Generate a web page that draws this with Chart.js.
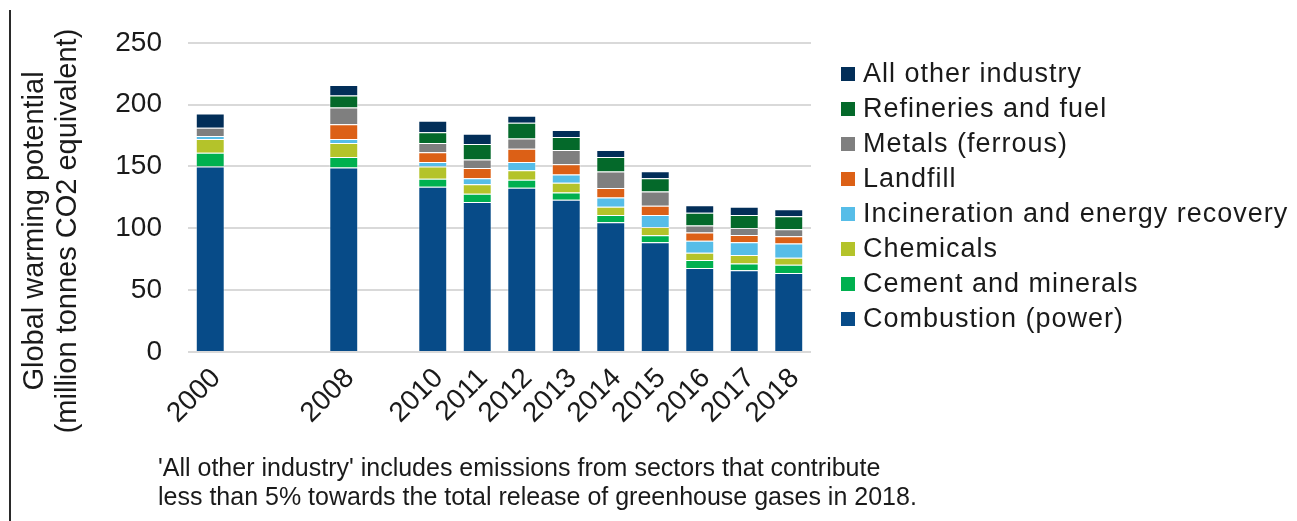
<!DOCTYPE html>
<html>
<head>
<meta charset="utf-8">
<title>Greenhouse gas emissions by sector</title>
<script src="https://cdn.jsdelivr.net/npm/chart.js@4.4.1/dist/chart.umd.min.js"></script>
<style>
  html, body { margin: 0; padding: 0; background: #fff; }
  #wrap {
    position: relative; width: 1297px; height: 521px; overflow: hidden;
    font-family: 'Liberation Sans', Arial, sans-serif; color: #1a1a1a;
  }
  #chart { position: absolute; left: 0; top: 0; }
  .frame { position: absolute; left: 9px; top: 10px; width: 1.5px; height: 511px; background: #2a2a2a; }
  .ytitle {
    position: absolute; left: 50px; top: 231px; width: 480px;
    transform: translate(-50%, -50%) rotate(-90deg);
    text-align: center; font-size: 29px; line-height: 33px;
  }
  .note {
    position: absolute; left: 158px; top: 453px;
    font-size: 25px; line-height: 29px;
  }
  #legend { position: absolute; left: 841px; top: 56px; }
  #legend .item { height: 35px; display: flex; align-items: center; white-space: nowrap; }
  #legend .box { width: 14px; height: 14px; margin-right: 8px; }
  #legend .txt { font-size: 27px; letter-spacing: 1px; }
</style>
</head>
<body>
<div id="wrap">
  <canvas id="chart" width="1297" height="521"></canvas>
  <div class="frame"></div>
  <div class="ytitle">Global warming potential<br>(million tonnes CO2 equivalent)</div>
  <div id="legend"></div>
  <div class="note">'All other industry' includes emissions from sectors that contribute<br>less than 5% towards the total release of greenhouse gases in 2018.</div>
</div>
<script>
(function() {
    'use strict';

    // Years on the axis; blank slots keep the gaps between 2000, 2008 and 2010
    const years = ['2000', '', '', '2008', '', '2010', '2011', '2012', '2013', '2014', '2015', '2016', '2017', '2018'];

    // Emissions per sector, million tonnes CO2 equivalent
    const combustion   = [150.0, null, null, 149.1, null, 133.6, 121.2, 132.8, 123.1, 104.9, 88.8, 67.9, 66.0, 63.9];
    const cement       = [11.2,  null, null, 8.6,   null, 6.4,   6.8,   6.4,   5.9,   5.9,   5.6,  6.4,  5.6,  6.7];
    const chemicals    = [11.0,  null, null, 11.3,  null, 10.0,  7.7,   7.8,   7.8,   6.7,   6.7,  5.9,  6.8,  5.6];
    const incineration = [2.4,   null, null, 3.2,   null, 3.7,   4.8,   6.7,   6.7,   7.5,   9.7,  9.7,  10.4, 11.5];
    const landfill     = [0,     null, null, 12.0,  null, 7.8,   8.3,   10.6,  8.3,   7.5,   7.5,  6.7,  5.9,  5.9];
    const metals       = [6.7,   null, null, 13.5,  null, 7.5,   6.8,   8.4,   11.5,  13.4,  11.5, 5.6,  5.6,  5.7];
    const refineries   = [0,     null, null, 9.6,   null, 8.6,   12.5,  12.6,  10.5,  11.8,  10.7, 10.4, 10.5, 10.4];
    const otherIndustry = [11.5, null, null, 8.6,   null, 9.4,   8.4,   5.7,   5.6,   5.6,   5.7,  6.0,  6.7,  5.7];

    const yTicks = [0, 50, 100, 150, 200, 250];

    const series = [
        { label: 'Combustion (power)', data: combustion, color: '#074b88' },
        { label: 'Cement and minerals', data: cement, color: '#00b04f' },
        { label: 'Chemicals', data: chemicals, color: '#b4c32a' },
        { label: 'Incineration and energy recovery', data: incineration, color: '#56bde8' },
        { label: 'Landfill', data: landfill, color: '#dc6016' },
        { label: 'Metals (ferrous)', data: metals, color: '#7f7f7f' },
        { label: 'Refineries and fuel', data: refineries, color: '#04692a' },
        { label: 'All other industry', data: otherIndustry, color: '#022e58' }
    ];

    const FONT = "'Liberation Sans', Arial, sans-serif";

    // Legend list is built from the datasets, top item = last stacked series
    const htmlLegend = {
        id: 'htmlLegend',
        afterUpdate(chart) {
            const box = document.getElementById('legend');
            box.innerHTML = '';
            chart.data.datasets.slice().reverse().forEach(ds => {
                const item = document.createElement('div');
                item.className = 'item';
                const sw = document.createElement('span');
                sw.className = 'box';
                sw.style.background = ds.backgroundColor;
                const txt = document.createElement('span');
                txt.className = 'txt';
                txt.textContent = ds.label;
                item.appendChild(sw);
                item.appendChild(txt);
                box.appendChild(item);
            });
        }
    };

    new Chart(document.getElementById('chart'), {
        type: 'bar',
        data: {
            labels: years,
            datasets: series.map(s => ({
                label: s.label,
                data: s.data,
                backgroundColor: s.color,
                borderColor: 'rgba(255,255,255,0.45)',
                borderWidth: 1,
                barPercentage: 0.65,
                categoryPercentage: 1.0
            }))
        },
        options: {
            responsive: false,
            animation: false,
            layout: {
                padding: { left: 100, top: 41, right: 486, bottom: 0 }
            },
            plugins: {
                legend: { display: false },
                tooltip: { enabled: false }
            },
            scales: {
                x: {
                    stacked: true,
                    grid: { display: false, drawTicks: false },
                    border: { display: false },
                    ticks: {
                        autoSkip: false,
                        minRotation: 45,
                        maxRotation: 45,
                        padding: 10,
                        labelOffset: 6,
                        color: '#1a1a1a',
                        font: { family: FONT, size: 28 }
                    },
                    afterFit: scale => { scale.height = 169; }
                },
                y: {
                    stacked: true,
                    min: 0,
                    max: 250,
                    afterBuildTicks: scale => {
                        scale.ticks = yTicks.map(v => ({ value: v }));
                    },
                    grid: { color: '#d9d9d9', lineWidth: 2, drawTicks: false },
                    border: { display: false },
                    ticks: {
                        padding: 26,
                        color: '#1a1a1a',
                        font: { family: FONT, size: 28 }
                    },
                    afterFit: scale => { scale.width = 88; }
                }
            }
        },
        plugins: [htmlLegend]
    });
})();
</script>
</body>
</html>
